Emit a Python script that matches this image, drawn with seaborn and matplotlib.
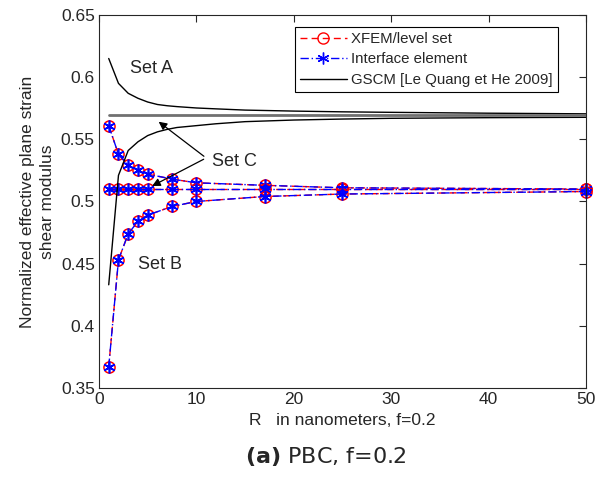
"""
Normalized effective plane strain shear modulus vs R (PBC, f=0.2)
"""

import numpy as np
import pandas as pd
import matplotlib
matplotlib.use("Agg")
import matplotlib.pyplot as plt
from matplotlib.lines import Line2D
import seaborn as sns

# data
R_pts = [1, 2, 3, 4, 5, 7.5, 10, 17, 25, 50]
set_a = [0.561, 0.538, 0.529, 0.525, 0.522, 0.518, 0.515, 0.513, 0.511, 0.510]
set_c = [0.510, 0.510, 0.510, 0.510, 0.510, 0.510, 0.510, 0.510, 0.510, 0.510]
set_b = [0.367, 0.453, 0.474, 0.484, 0.489, 0.496, 0.500, 0.504, 0.506, 0.508]

R_gscm = [1, 2, 3, 4, 5, 6, 7, 8, 10, 12, 15, 20, 25, 30, 40, 50]
gscm_a = [0.615, 0.595, 0.587, 0.583, 0.580, 0.578, 0.577, 0.5763, 0.5752,
          0.5745, 0.5735, 0.5727, 0.5721, 0.5717, 0.5710, 0.5705]
gscm_b = [0.433, 0.521, 0.541, 0.548, 0.553, 0.556, 0.558, 0.5595, 0.561,
          0.5625, 0.5642, 0.5655, 0.5663, 0.5669, 0.5674, 0.5677]
R_c = [1, 50]
gscm_c = [0.5695, 0.5695]

legend_labels = ["XFEM/level set", "Interface element", "GSCM [Le Quang et He 2009]"]

sns.set_theme(style="white")
plt.rcParams['font.family'] = ['Liberation Sans', 'DejaVu Sans']

fig = plt.figure(figsize=(5.97, 4.91), dpi=100)
ax = fig.add_axes([0.1658, 0.2098, 0.8158, 0.7597])

star = (6, 2, 0)
red_ls = (0, (5, 3))
blue_ls = (0, (6, 2, 1, 2))
for ys in [set_a, set_c, set_b]:
    df = pd.DataFrame({"R": R_pts, "G": ys})
    sns.lineplot(data=df, x="R", y="G", ax=ax, color="red", linestyle=red_ls,
                 lw=1.0, marker="o", markersize=8, markerfacecolor="none",
                 markeredgecolor="red", markeredgewidth=1.1, clip_on=False)
    sns.lineplot(data=df, x="R", y="G", ax=ax, color="blue", linestyle=blue_ls,
                 lw=1.0, marker=star, markersize=8.5, markeredgecolor="blue",
                 markeredgewidth=1.2, clip_on=False)

sns.lineplot(x=R_gscm, y=gscm_a, ax=ax, color="black", lw=1.0)
sns.lineplot(x=R_gscm, y=gscm_b, ax=ax, color="black", lw=1.0)
sns.lineplot(x=R_c, y=gscm_c, ax=ax, color="#707070", lw=2.0)

ax.set_xlim(0, 50)
ax.set_ylim(0.35, 0.65)
ax.set_xticks([0, 10, 20, 30, 40, 50])
ax.set_yticks([0.35, 0.4, 0.45, 0.5, 0.55, 0.6, 0.65])
ax.set_yticklabels(["0.35", "0.4", "0.45", "0.5", "0.55", "0.6", "0.65"])
ax.tick_params(direction="in", length=5, width=0.8, top=True, right=True,
               labelsize=12.5, colors="#262626", pad=3)
for s in ax.spines.values():
    s.set_color("#262626")
    s.set_linewidth(0.8)

ax.set_xlabel("R   in nanometers, f=0.2", fontsize=12.5, color="#262626", labelpad=4)
ax.set_ylabel("Normalized effective plane strain\nshear modulus", fontsize=12.5,
              color="#262626", labelpad=4, linespacing=1.45)

# annotations
ax.text(3.2, 0.607, "Set A", fontsize=13, va="center", ha="left")
ax.text(4.0, 0.449, "Set B", fontsize=13, va="center", ha="left")
ax.text(11.6, 0.532, "Set C", fontsize=13, va="center", ha="left")
arrow = dict(arrowstyle="-|>", color="black", lw=0.9, mutation_scale=12)
ax.annotate("", xy=(5.9, 0.5655), xytext=(11.0, 0.535), arrowprops=arrow)
ax.annotate("", xy=(5.2, 0.5114), xytext=(11.0, 0.535), arrowprops=arrow)

handles = [
    Line2D([], [], color="red", linestyle=red_ls, lw=1.0, marker="o",
           markersize=8, markerfacecolor="none", markeredgecolor="red"),
    Line2D([], [], color="blue", linestyle=blue_ls, lw=1.0, marker=star,
           markersize=8.5, markeredgecolor="blue"),
    Line2D([], [], color="black", lw=1.0),
]
leg = ax.legend(handles, legend_labels, loc="upper right", bbox_to_anchor=(0.9425, 0.968),
                fontsize=10.8, frameon=True, fancybox=False, framealpha=1,
                edgecolor="black", handlelength=3.1, handletextpad=0.3,
                borderpad=0.35, labelspacing=0.42, borderaxespad=0)
leg.get_frame().set_linewidth(0.8)

fig.text(0.545, 0.07, r"$\mathbf{(a)}$ PBC, f=0.2", ha="center", va="center",
         fontsize=16, family="DejaVu Sans")

plt.savefig("out.png", dpi=100, facecolor="white")
